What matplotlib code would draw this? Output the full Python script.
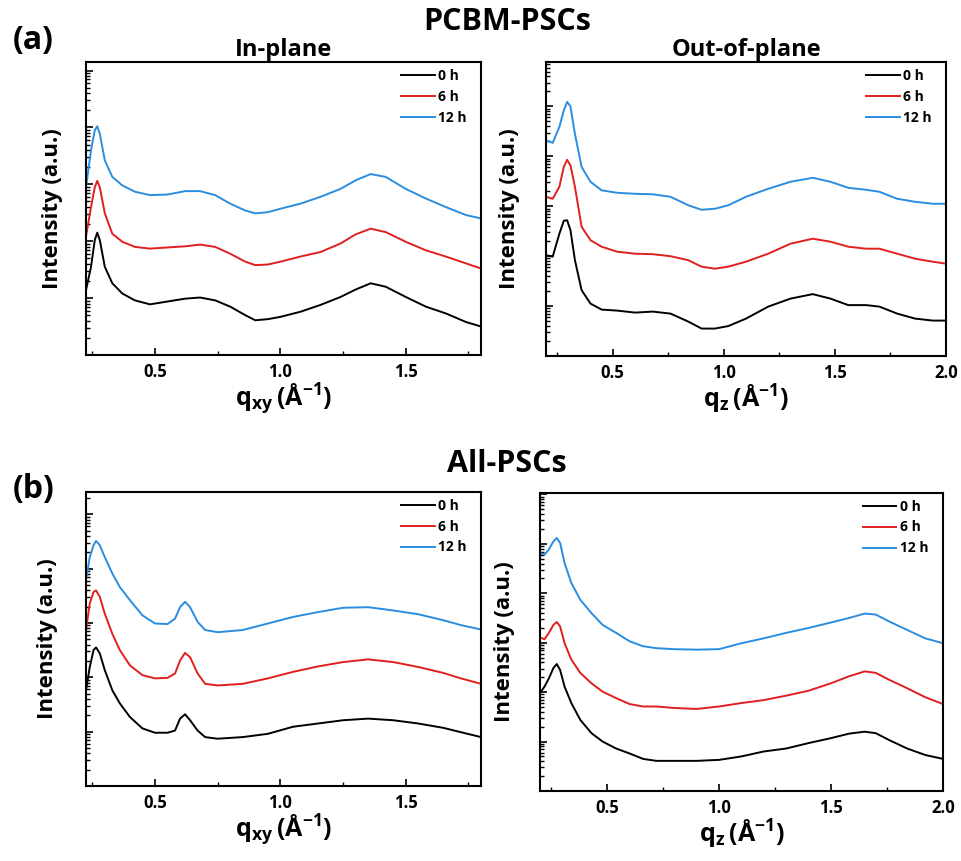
import numpy as np
import matplotlib
matplotlib.use("Agg")
import matplotlib.pyplot as plt
from matplotlib.ticker import LogLocator, NullFormatter, MultipleLocator

plt.rcParams['font.family'] = ['Open Sans', 'DejaVu Sans']
plt.rcParams['font.weight'] = 'bold'
plt.rcParams['mathtext.fontset'] = 'custom'
plt.rcParams['mathtext.rm'] = 'Open Sans'
plt.rcParams['mathtext.bf'] = 'Open Sans:bold'

labels = ['0 h', '6 h', '12 h']
colors = ['black', '#e0201e', '#2a8de0']

# values are log10 of intensity (a.u.)

# (a) PCBM-PSCs, in-plane
q_a_in = [0.225, 0.245, 0.26, 0.27, 0.28, 0.30, 0.33, 0.37, 0.42, 0.48, 0.55, 0.62, 0.68, 0.74, 0.80,
          0.86, 0.90, 0.95, 1.00, 1.08, 1.16, 1.24, 1.30, 1.36, 1.42, 1.50, 1.58, 1.66, 1.74, 1.80]
a_in_0h = [1.14, 1.55, 2.02, 2.15, 2.02, 1.55, 1.26, 1.08, 0.96, 0.89, 0.94, 0.99, 1.01, 0.96, 0.85,
           0.70, 0.61, 0.63, 0.67, 0.76, 0.88, 1.02, 1.15, 1.26, 1.20, 1.02, 0.85, 0.73, 0.58, 0.50]
a_in_6h = [2.08, 2.60, 2.95, 3.06, 2.95, 2.49, 2.13, 1.99, 1.90, 1.87, 1.89, 1.91, 1.94, 1.90, 1.78,
           1.64, 1.58, 1.59, 1.64, 1.73, 1.81, 1.96, 2.12, 2.22, 2.16, 1.99, 1.84, 1.73, 1.61, 1.52]
a_in_12h = [2.95, 3.60, 3.95, 4.02, 3.89, 3.42, 3.13, 2.98, 2.87, 2.81, 2.82, 2.88, 2.88, 2.81, 2.66,
            2.54, 2.49, 2.51, 2.57, 2.66, 2.78, 2.92, 3.07, 3.18, 3.13, 2.92, 2.75, 2.60, 2.46, 2.40]

# (a) PCBM-PSCs, out-of-plane
q_a_out = [0.20, 0.23, 0.26, 0.28, 0.295, 0.31, 0.33, 0.36, 0.40, 0.45, 0.52, 0.60, 0.68, 0.76, 0.84,
           0.90, 0.96, 1.02, 1.10, 1.20, 1.30, 1.40, 1.48, 1.56, 1.64, 1.70, 1.78, 1.86, 1.94, 2.00]
a_out_0h = [2.02, 1.99, 2.45, 2.71, 2.72, 2.52, 1.92, 1.32, 1.05, 0.93, 0.91, 0.87, 0.89, 0.85, 0.69,
            0.55, 0.55, 0.60, 0.75, 0.99, 1.15, 1.24, 1.15, 1.02, 1.02, 0.99, 0.85, 0.75, 0.71, 0.71]
a_out_6h = [3.19, 3.15, 3.39, 3.79, 3.93, 3.82, 3.39, 2.59, 2.32, 2.19, 2.09, 2.05, 2.04, 2.00, 1.92,
            1.79, 1.75, 1.79, 1.89, 2.05, 2.25, 2.35, 2.29, 2.19, 2.15, 2.15, 2.05, 1.95, 1.89, 1.85]
a_out_12h = [4.32, 4.27, 4.59, 4.92, 5.09, 5.00, 4.45, 3.79, 3.49, 3.32, 3.27, 3.25, 3.24, 3.19, 3.02,
             2.93, 2.95, 3.02, 3.19, 3.35, 3.49, 3.57, 3.49, 3.37, 3.33, 3.29, 3.15, 3.09, 3.05, 3.05]

# (b) All-PSCs, in-plane
q_b_in = [0.225, 0.24, 0.255, 0.265, 0.28, 0.30, 0.33, 0.36, 0.40, 0.45, 0.50, 0.55, 0.58, 0.60, 0.62,
          0.64, 0.67, 0.70, 0.75, 0.85, 0.95, 1.05, 1.15, 1.25, 1.35, 1.45, 1.55, 1.65, 1.72, 1.80]
b_in_0h = [1.76, 2.19, 2.50, 2.55, 2.44, 2.13, 1.76, 1.52, 1.27, 1.06, 0.98, 0.98, 1.02, 1.24, 1.32,
           1.21, 1.02, 0.90, 0.87, 0.90, 0.96, 1.09, 1.15, 1.21, 1.24, 1.21, 1.15, 1.07, 0.99, 0.90]
b_in_6h = [2.87, 3.36, 3.57, 3.60, 3.48, 3.17, 2.80, 2.50, 2.22, 2.04, 1.98, 1.99, 2.07, 2.31, 2.45,
           2.37, 2.07, 1.88, 1.85, 1.88, 1.98, 2.10, 2.20, 2.28, 2.33, 2.28, 2.19, 2.08, 1.98, 1.88]
b_in_12h = [3.79, 4.21, 4.43, 4.51, 4.43, 4.21, 3.91, 3.66, 3.42, 3.14, 2.99, 2.98, 3.08, 3.29, 3.39,
            3.29, 3.02, 2.87, 2.83, 2.87, 2.99, 3.11, 3.20, 3.28, 3.29, 3.23, 3.16, 3.05, 2.96, 2.88]

# (b) All-PSCs, out-of-plane
q_b_out = [0.20, 0.22, 0.24, 0.26, 0.275, 0.29, 0.31, 0.34, 0.38, 0.43, 0.48, 0.54, 0.60, 0.66, 0.72,
           0.80, 0.90, 1.00, 1.10, 1.20, 1.30, 1.40, 1.50, 1.58, 1.65, 1.70, 1.76, 1.84, 1.92, 2.00]
b_out_0h = [1.98, 2.11, 2.28, 2.49, 2.57, 2.45, 2.11, 1.78, 1.44, 1.17, 1.00, 0.86, 0.76, 0.65, 0.61,
            0.61, 0.61, 0.63, 0.70, 0.80, 0.86, 0.97, 1.07, 1.16, 1.20, 1.17, 1.03, 0.86, 0.73, 0.65]
b_out_6h = [3.11, 3.07, 3.20, 3.36, 3.42, 3.33, 2.99, 2.66, 2.39, 2.18, 2.01, 1.88, 1.76, 1.71, 1.71,
            1.68, 1.66, 1.71, 1.78, 1.84, 1.93, 2.03, 2.18, 2.32, 2.42, 2.39, 2.25, 2.08, 1.90, 1.76]
b_out_12h = [4.82, 4.78, 4.89, 5.05, 5.12, 5.02, 4.61, 4.21, 3.87, 3.60, 3.36, 3.20, 3.03, 2.93, 2.89,
             2.87, 2.86, 2.87, 2.99, 3.09, 3.20, 3.30, 3.41, 3.50, 3.59, 3.57, 3.43, 3.26, 3.09, 2.99]

panels = [
    # rect, q, curves, xlim, top decade, xlabel subscript, ylabel x-offset
    ([0.0894, 0.5877, 0.4106, 0.3403], q_a_in, [a_in_0h, a_in_6h, a_in_12h], (0.225, 1.8), 5.15, 'xy', -0.058),
    ([0.5676, 0.5865, 0.4158, 0.3415], q_a_out, [a_out_0h, a_out_6h, a_out_12h], (0.2, 2.0), 5.89, 'z', -0.065),
    ([0.0894, 0.0871, 0.4106, 0.3415], q_b_in, [b_in_0h, b_in_6h, b_in_12h], (0.225, 1.8), 5.41, 'xy', -0.07),
    ([0.5613, 0.0813, 0.4189, 0.3461], q_b_out, [b_out_0h, b_out_6h, b_out_12h], (0.2, 2.0), 6.03, 'z', -0.062),
]

fig = plt.figure(figsize=(9.62, 8.61), dpi=100)
axes = []
for rect, q, curves, xlim, top, sub, ylab_x in panels:
    ax = fig.add_axes(rect)
    for vals, lab, c in zip(curves, labels, colors):
        ax.plot(q, 10 ** np.array(vals), color=c, lw=1.4, label=lab)
    ax.set_yscale('log')
    ax.set_ylim(1, 10 ** top)
    ax.set_xlim(*xlim)
    ax.yaxis.set_major_locator(LogLocator(base=10, numticks=20))
    ax.yaxis.set_minor_locator(LogLocator(base=10, subs=np.arange(2, 10), numticks=20))
    ax.yaxis.set_major_formatter(NullFormatter())
    ax.yaxis.set_minor_formatter(NullFormatter())
    ax.xaxis.set_major_locator(MultipleLocator(0.5))
    ax.xaxis.set_minor_locator(MultipleLocator(0.25))
    ax.tick_params(axis='both', which='both', direction='in', top=False, right=False)
    ax.tick_params(axis='both', which='major', length=5, width=1.2, labelsize=12)
    ax.tick_params(axis='both', which='minor', length=3, width=1.0)
    ax.tick_params(axis='x', pad=6)
    for sp in ax.spines.values():
        sp.set_linewidth(1.5)
    for t in ax.get_xticklabels():
        t.set_fontweight('bold')
    ax.set_xlabel(r'$\mathbf{q_{%s}\,(\AA^{-1})}$' % sub, fontsize=18, labelpad=0)
    ax.set_ylabel('Intensity (a.u.)', fontsize=16, fontweight='bold')
    ax.yaxis.set_label_coords(ylab_x, 0.5)
    ax.legend(loc='upper right', frameon=False, handlelength=2.4,
              handletextpad=0.25, labelspacing=0.5, bbox_to_anchor=(0.995, 1.02),
              prop={'weight': 'bold', 'size': 10})
    axes.append(ax)

axes[0].set_title('In-plane', fontsize=17, fontweight='bold', pad=4)
axes[1].set_title('Out-of-plane', fontsize=17, fontweight='bold', pad=4)

fig.text(0.527, 0.975, 'PCBM-PSCs', fontsize=22, fontweight='bold', ha='center', va='center')
fig.text(0.527, 0.461, 'All-PSCs', fontsize=22, fontweight='bold', ha='center', va='center')
fig.text(0.013, 0.953, '(a)', fontsize=23, fontweight='bold', ha='left', va='center')
fig.text(0.013, 0.431, '(b)', fontsize=23, fontweight='bold', ha='left', va='center')

fig.savefig('out.png', dpi=100, facecolor='white')
